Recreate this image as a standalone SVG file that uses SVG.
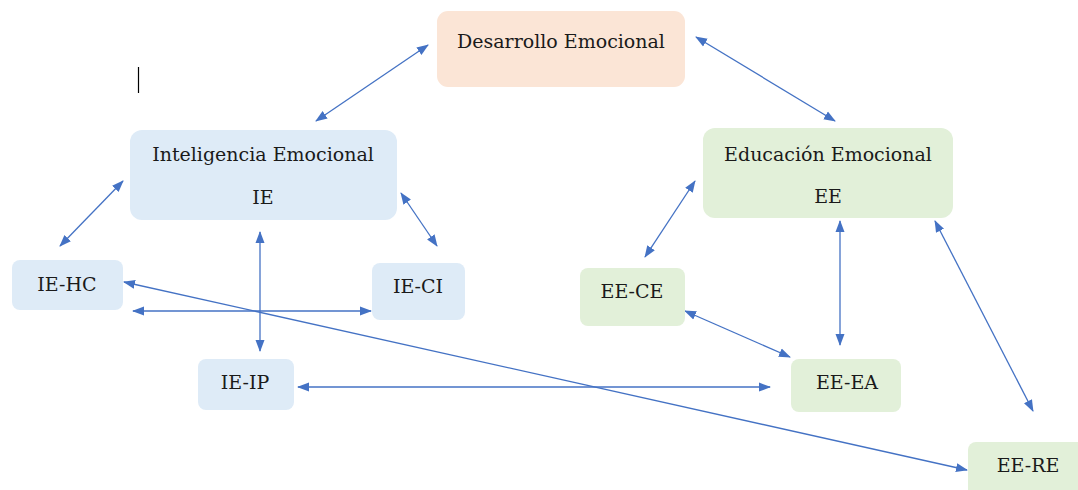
<svg xmlns="http://www.w3.org/2000/svg" width="1078" height="490" viewBox="0 0 1078 490">
<style>
.t{font-family:"DejaVu Serif","Liberation Serif",serif;font-size:19px;fill:#1a1a1a;text-anchor:middle}
.blue{fill:#DEEBF7}
.green{fill:#E2F0D9}
.peach{fill:#FBE5D6}
.c{stroke:#4472C4;stroke-width:1.3;fill:none;marker-start:url(#ah);marker-end:url(#ah)}
</style>
<defs>
<marker id="ah" markerUnits="userSpaceOnUse" markerWidth="12" markerHeight="10" refX="11" refY="4.5" orient="auto-start-reverse" viewBox="0 0 12 9">
<path d="M0,0 L12,4.5 L0,9 z" fill="#4472C4"/>
</marker>
</defs>
<rect width="1078" height="490" fill="#ffffff"/>
<line x1="138.5" y1="67" x2="138.5" y2="93" stroke="#000" stroke-width="1.2"/>
<g id="connectors">
<line class="c" x1="316" y1="121" x2="428" y2="45"/>
<line class="c" x1="696" y1="37" x2="835" y2="121"/>
<line class="c" x1="123" y1="181" x2="60" y2="246"/>
<line class="c" x1="401" y1="193" x2="437" y2="246"/>
<line class="c" x1="260" y1="232" x2="260" y2="351"/>
<line class="c" x1="133" y1="311" x2="371" y2="311"/>
<line class="c" x1="298" y1="387" x2="770" y2="387"/>
<line class="c" x1="124" y1="282" x2="967" y2="470"/>
<line class="c" x1="695" y1="181" x2="645" y2="257"/>
<line class="c" x1="840" y1="221" x2="840" y2="345"/>
<line class="c" x1="685" y1="311" x2="790" y2="357"/>
<line class="c" x1="935" y1="221" x2="1033" y2="411"/>
</g>
<g id="desarrollo">
<rect class="peach" x="437" y="11" width="248" height="76" rx="11"/>
<text class="t" x="561" y="48">Desarrollo Emocional</text>
</g>
<g id="ie">
<rect class="blue" x="130" y="130" width="267" height="90" rx="12"/>
<text class="t" x="263" y="161">Inteligencia Emocional</text>
<text class="t" x="263" y="204">IE</text>
</g>
<g id="ee">
<rect class="green" x="703" y="128" width="250" height="90" rx="12"/>
<text class="t" x="828" y="161">Educación Emocional</text>
<text class="t" x="828" y="203">EE</text>
</g>
<g id="ie-hc">
<rect class="blue" x="12" y="260" width="111" height="50" rx="8"/>
<text class="t" x="67" y="291">IE-HC</text>
</g>
<g id="ie-ci">
<rect class="blue" x="372" y="263" width="93" height="57" rx="8"/>
<text class="t" x="418" y="293">IE-CI</text>
</g>
<g id="ie-ip">
<rect class="blue" x="198" y="359" width="96" height="51" rx="8"/>
<text class="t" x="245" y="389">IE-IP</text>
</g>
<g id="ee-ce">
<rect class="green" x="580" y="268" width="105" height="58" rx="8"/>
<text class="t" x="632" y="298">EE-CE</text>
</g>
<g id="ee-ea">
<rect class="green" x="791" y="359" width="110" height="53" rx="8"/>
<text class="t" x="847" y="389">EE-EA</text>
</g>
<g id="ee-re">
<rect class="green" x="968" y="442" width="120" height="60" rx="8"/>
<text class="t" x="1028" y="472">EE-RE</text>
</g>
</svg>
